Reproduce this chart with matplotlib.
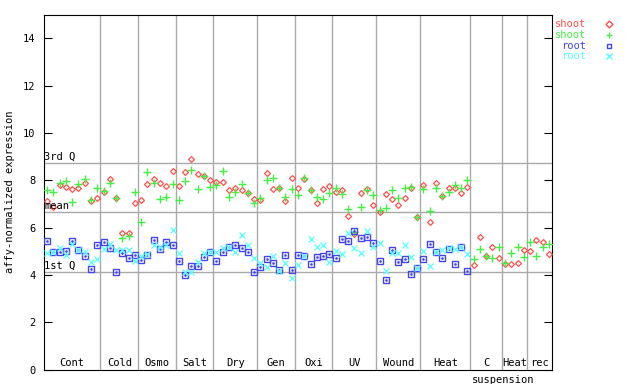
import numpy as np
import matplotlib
matplotlib.use("Agg")
import matplotlib.pyplot as plt

# expression values per sample (81 samples)
shoot_a = [7.13, 6.86, 7.78, 7.71, 7.62, 7.69, 7.87, 7.10, 7.24, 7.52, 8.06, 7.24, 5.76, 5.76,
           7.03, 7.17, 7.85, 8.04, 7.87, 7.76, 8.38, 7.76, 8.34, 8.89, 8.27, 8.16, 8.00, 7.93,
           7.93, 7.58, 7.68, 7.58, 7.47, 7.21, 7.16, 8.30, 7.62, 7.66, 7.11, 8.09, 7.66, 8.04,
           7.58, 7.03, 7.62, 7.75, 7.51, 7.58, 6.48, 5.72, 7.47, 7.62, 6.94, 6.65, 7.40, 7.20,
           6.94, 7.23, 7.66, 6.44, 7.80, 6.22, 7.89, 7.35, 7.66, 7.66, 7.45, 7.71, 4.41, 5.59,
           4.79, 5.17, 4.70, 4.45, 4.45, 4.52, 5.05, 5.00, 5.46, 5.38, 4.87]
shoot_b = [7.59, 7.51, 7.90, 7.96, 7.08, 7.85, 8.06, 7.17, 7.66, 7.55, 7.87, 7.24, 5.55, 5.62,
           7.50, 6.24, 8.34, 7.87, 7.20, 7.28, 7.85, 7.16, 7.96, 8.42, 7.62, 8.16, 7.71, 7.79,
           8.40, 7.28, 7.49, 7.85, 7.45, 7.03, 7.24, 8.00, 8.09, 7.66, 7.30, 7.62, 7.37, 8.09,
           7.58, 7.28, 7.20, 7.45, 7.66, 7.41, 6.78, 5.83, 6.86, 7.58, 7.37, 6.75, 6.82, 7.58,
           7.23, 7.66, 7.73, 6.44, 7.62, 6.69, 7.66, 7.35, 7.51, 7.80, 7.66, 8.00, 4.66, 5.08,
           4.79, 4.70, 5.17, 4.52, 4.91, 5.17, 4.75, 5.38, 4.79, 5.19, 5.30]
root_a = [5.43, 4.98, 4.98, 5.01, 5.43, 5.03, 4.80, 4.24, 5.25, 5.38, 5.13, 4.11, 4.94, 4.70,
          4.83, 4.63, 4.84, 5.48, 5.11, 5.37, 5.25, 4.58, 4.00, 4.38, 4.38, 4.76, 4.98, 4.58,
          4.98, 5.19, 5.25, 5.13, 4.96, 4.11, 4.32, 4.66, 4.49, 4.22, 4.83, 4.20, 4.83, 4.79,
          4.45, 4.76, 4.79, 4.87, 4.72, 5.51, 5.42, 5.84, 5.55, 5.59, 5.34, 4.58, 3.77, 5.05,
          4.53, 4.66, 4.03, 4.27, 4.66, 5.30, 4.96, 4.70, 5.08, 4.45, 5.17, 4.15] + [np.nan] * 13
root_b = [4.91, 4.96, 5.13, 4.83, 5.29, 5.03, 4.97, 4.53, 4.67, 5.10, 5.29, 5.03, 5.06, 5.06,
          4.59, 4.80, 4.87, 5.28, 5.19, 5.27, 5.90, 4.94, 4.12, 4.10, 4.56, 4.91, 4.96, 4.96,
          5.13, 5.19, 4.96, 5.68, 5.25, 4.72, 4.52, 4.35, 4.79, 4.17, 4.52, 3.86, 4.41, 4.79,
          5.51, 5.17, 5.25, 4.55, 5.00, 4.87, 5.76, 5.14, 4.91, 5.84, 5.19, 5.34, 4.15, 4.91,
          4.91, 5.25, 4.76, 4.27, 5.00, 4.38, 4.96, 5.05, 5.15, 5.08, 5.17, 4.87] + [np.nan] * 13

groups = ["Cont", "Cold", "Osmo", "Salt", "Dry", "Gen", "Oxi", "UV", "Wound", "Heat", "C", "Heat", "rec"]
group_sizes = [9, 6, 6, 6, 7, 6, 6, 7, 7, 8, 5, 4, 4]
quartiles = {"3rd Q": 8.72, "mean": 6.65, "1st Q": 4.11}

red, green, blue, cyan = "#ff4d4d", "#44ee44", "#4444ee", "#55ffff"
mono = "DejaVu Sans Mono"

fig = plt.figure(figsize=(6.4, 3.84), dpi=100)
ax = fig.add_axes([44 / 640, 14.5 / 384, 508 / 640, 355 / 384])

x = np.arange(len(shoot_a)) + 0.5
ax.plot(x, shoot_a, ls="none", marker="D", ms=3.0, mfc="none", mec=red, mew=0.9, zorder=3)
ax.plot(x, shoot_b, ls="none", marker="+", ms=5.5, mec=green, mew=1.0, zorder=3)
ax.plot(x, root_a, ls="none", marker="s", ms=3.8, mfc="none", mec=blue, mew=1.0, zorder=3)
ax.plot(x, root_a, ls="none", marker="s", ms=0.8, mfc=blue, mec=blue, zorder=3)
ax.plot(x, root_b, ls="none", marker="x", ms=4.0, mec=cyan, mew=0.9, zorder=3)

# group separators and labels
edges = np.cumsum([0] + group_sizes)
for e in edges[1:-1]:
    ax.axvline(e, color="#aaaaaa", lw=1, zorder=1)
for name, a, b in zip(groups, edges[:-1], edges[1:]):
    ax.text((a + b) / 2, 0.08, name, ha="center", va="bottom", fontsize=7.5, family=mono)
ax.text((edges[10] + edges[11]) / 2 + 2.7, -0.25, "suspension", ha="center", va="top",
        fontsize=7.5, family=mono, clip_on=False)

for name, v in quartiles.items():
    ax.axhline(v, color="#aaaaaa", lw=1, zorder=1)
    ax.text(0.05, v + 0.05, name, ha="left", va="bottom", fontsize=7.5, family=mono)

ax.set_xlim(0, len(shoot_a))
ax.set_ylim(0, 15)
ax.set_yticks(range(0, 15, 2))
ax.set_xticks([])
ax.tick_params(axis="y", direction="in", length=6, right=True, labelsize=7.5, pad=6)
for lab in ax.get_yticklabels():
    lab.set_family(mono)
ax.set_ylabel("affy-normalized expression", fontsize=7.5, family=mono)
ax.yaxis.set_label_coords(-0.058, 0.5)

# legend on the right, outside the axes
leg = [("shoot", red, "D"), ("shoot", green, "+"), ("root", blue, "s"), ("root", cyan, "x")]
for i, (name, col, mk) in enumerate(leg):
    yy = 1 - (24 + i * 10.8) / 384
    fig.text(586 / 640, yy, name, color=col, ha="right", va="center", fontsize=7.5, family=mono)
    kw = dict(mfc="none", ms=3.5) if mk in "Ds" else dict(ms=5)
    ax.plot([609 / 640], [yy], marker=mk, mec=col, mew=1, ls="none", transform=fig.transFigure,
            clip_on=False, **kw)

fig.savefig("out.png", dpi=100)
